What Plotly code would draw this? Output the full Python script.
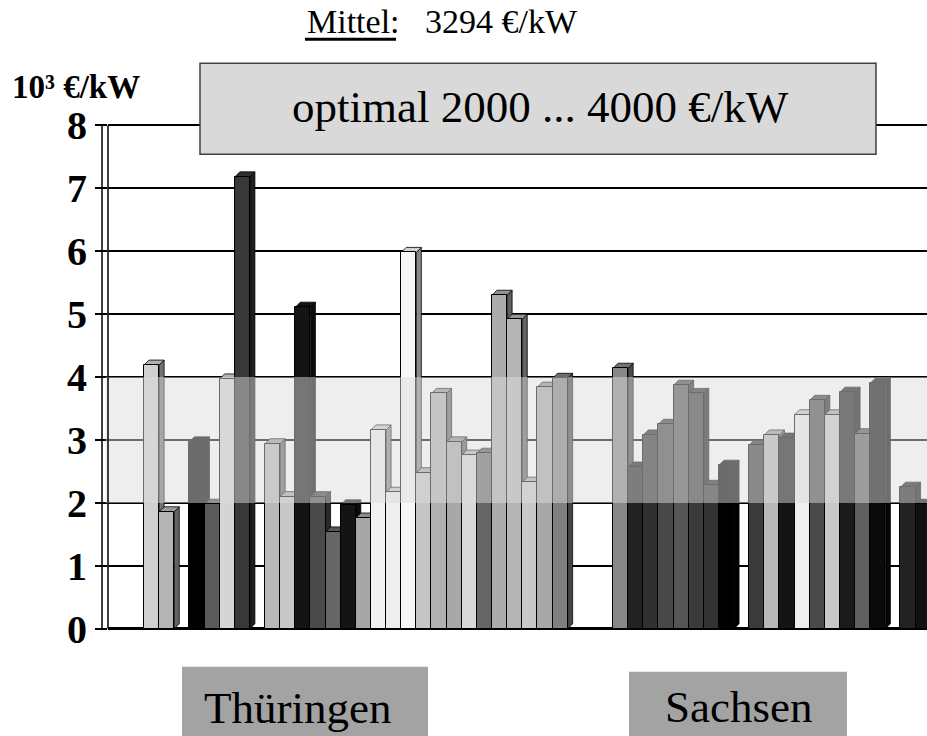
import plotly.graph_objects as go

# ---------------- data ----------------
slot = list(range(52))
values = [4.19, 1.86, 0, 2.97, 1.98, 3.97, 7.18, 0, 2.94, 2.10,
          5.11, 2.10, 1.54, 1.97, 1.76, 3.16, 2.17, 5.98, 2.48, 3.74,
          2.97, 2.76, 2.79, 5.30, 4.92, 2.33, 3.84, 3.98, 0, 0,
          0, 4.14, 2.57, 3.08, 3.25, 3.87, 3.74, 2.28, 2.60, 0,
          2.92, 3.08, 3.03, 3.40, 3.63, 3.40, 3.76, 3.10, 3.90, 0,
          2.25, 1.98]
region = ["Thüringen"] * 28 + [""] * 3 + ["Sachsen"] * 21
regions = ["Thüringen", "Sachsen"]
optimal_low, optimal_high = 2.0, 4.0
mean_value = 3294
tick_vals = [0, 1, 2, 3, 4, 5, 6, 7, 8]
tick_labels = ["0", "1", "2", "3", "4", "5", "6", "7", "8"]

bar_colors = ["#d0d0d0", "#b5b5b5", "#ffffff", "#000000", "#5a5a5a", "#d5d5d5", "#383838", "#ffffff", "#b8b8b8", "#c8c8c8",
              "#141414", "#4a4a4a", "#666666", "#141414", "#a6a6a6", "#f2f2f2", "#eeeeee", "#f8f8f8", "#c5c5c5", "#b0b0b0",
              "#a8a8a8", "#d8d8d8", "#666666", "#acacac", "#b5b5b5", "#c8c8c8", "#a8a8a8", "#808080", "#ffffff", "#ffffff",
              "#ffffff", "#888888", "#222222", "#303030", "#484848", "#555555", "#3a3a3a", "#333333", "#000000", "#ffffff",
              "#3a3a3a", "#b8b8b8", "#141414", "#eeeeee", "#4a4a4a", "#c8c8c8", "#1a1a1a", "#606060", "#0a0a0a", "#ffffff",
              "#222222", "#111111"]

assert len(values) == len(slot) == len(region) == len(bar_colors)

# ---------------- geometry helpers ----------------
W, H = 927, 736
ML, MR = 108, 0
MT, MB = 118.7, 103.85
PW = W - ML - MR
PH = H - MT - MB


def px2x(px):
    return (px - ML) / PW


def px2y(py):
    return (H - MB - py) / PH


SERIF = "Liberation Serif"
FONT = dict(family=SERIF, color="black")


def shade(hexc, f):
    h = hexc.lstrip("#")
    r, g, b = (int(h[i:i + 2], 16) for i in (0, 2, 4))
    return "#%02x%02x%02x" % (int(r * f), int(g * f), int(b * f))


fig = go.Figure()
fig.add_trace(go.Bar(
    x=slot, y=values, width=1,
    marker=dict(color=bar_colors, line=dict(color="black", width=1)),
    showlegend=False, hoverinfo="skip"))

# 3D side and top faces (computed from the data in data coordinates)
dx, dy = 0.33, 0.08
shapes = []
sides, tops = [], []
for k, v, c in zip(slot, values, bar_colors):
    if v <= 0:
        continue
    r = k + 0.5
    l = k - 0.5
    sides.append(dict(type="path", xref="x", yref="y", layer="between",
                      path=f"M {r},0 L {r+dx},{dy} L {r+dx},{v+dy} L {r},{v} Z",
                      fillcolor=shade(c, 0.55), line=dict(color="black", width=0.8)))
    tops.append(dict(type="path", xref="x", yref="y", layer="between",
                     path=f"M {l},{v} L {l+dx},{v+dy} L {r+dx},{v+dy} L {r},{v} Z",
                     fillcolor=shade(c, 0.85), line=dict(color="black", width=0.8)))
shapes += sides + tops

# optimal band overlay
shapes.append(dict(type="rect", xref="paper", yref="y", x0=-0.003, x1=1,
                   y0=optimal_low, y1=optimal_high, layer="above",
                   fillcolor="rgba(220,220,220,0.49)", line=dict(width=0)))

# wall lines
for wx in (102, 108):
    shapes.append(dict(type="line", xref="paper", yref="y", x0=px2x(wx), x1=px2x(wx),
                       y0=0, y1=8, line=dict(color="black", width=1.5), layer="above"))

# box with optimal text
shapes.append(dict(type="rect", xref="paper", yref="paper",
                   x0=px2x(200), x1=px2x(876), y0=px2y(154), y1=px2y(63),
                   fillcolor="#d9d9d9", line=dict(color="#404040", width=1.5), layer="above"))

# thick underline below "Mittel:"
shapes.append(dict(type="line", xref="paper", yref="paper",
                   x0=px2x(305), x1=px2x(396), y0=px2y(39), y1=px2y(39),
                   line=dict(color="black", width=3), layer="above"))

# region label boxes
region_boxes = {"Thüringen": (182, 428, 667), "Sachsen": (629, 847, 672)}
region_text_pos = {"Thüringen": (297, 708), "Sachsen": (738, 707)}
for name in regions:
    x0, x1, y0 = region_boxes[name]
    shapes.append(dict(type="rect", xref="paper", yref="paper",
                       x0=px2x(x0), x1=px2x(x1), y0=px2y(745), y1=px2y(y0),
                       fillcolor="#a3a3a3", line=dict(width=0), layer="above"))

annotations = [
    dict(text="Mittel:\u00a0\u00a0\u00a0%d €/kW" % mean_value,
         x=px2x(305), y=px2y(21), xref="paper", yref="paper", showarrow=False,
         font=dict(size=34, **FONT), xanchor="left", yanchor="middle"),
    dict(text="optimal %d ... %d €/kW" % (optimal_low * 1000, optimal_high * 1000),
         x=px2x(540), y=px2y(107), xref="paper", yref="paper", showarrow=False,
         font=dict(size=45, **FONT), xanchor="center", yanchor="middle"),
    dict(text="<b>10³ €/kW</b>",
         x=px2x(10), y=px2y(87), xref="paper", yref="paper", showarrow=False,
         font=dict(size=33, **FONT), xanchor="left", yanchor="middle"),
]
for name in regions:
    tx, ty = region_text_pos[name]
    annotations.append(dict(text=name, x=px2x(tx), y=px2y(ty), xref="paper", yref="paper",
                            showarrow=False, font=dict(size=45, **FONT),
                            xanchor="center", yanchor="middle"))

x_lo = (ML - 151.56) / 15.13
x_hi = (W - 151.56) / 15.13

fig.update_layout(
    width=W, height=H,
    margin=dict(l=ML, r=MR, t=MT, b=MB, pad=0),
    paper_bgcolor="white", plot_bgcolor="white",
    bargap=0,
    shapes=shapes, annotations=annotations,
    xaxis=dict(range=[x_lo, x_hi], showgrid=False, zeroline=False,
               showticklabels=False, ticks="", showline=False),
    yaxis=dict(range=[-0.05, 8.1], tickvals=tick_vals,
               ticktext=["<b>%s</b>" % t for t in tick_labels],
               tickfont=dict(size=40, **FONT), ticks="outside", ticklen=12,
               tickwidth=2, tickcolor="black",
               showgrid=True, gridcolor="black", gridwidth=2,
               zeroline=True, zerolinecolor="black", zerolinewidth=3,
               showline=False),
    font=FONT,
)

fig.write_html("out.html")
